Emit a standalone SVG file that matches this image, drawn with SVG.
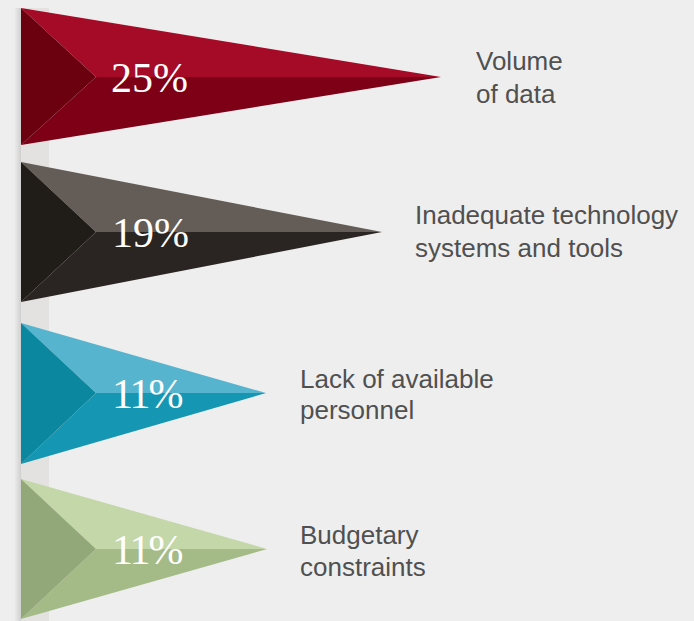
<svg xmlns="http://www.w3.org/2000/svg" width="694" height="621" viewBox="0 0 694 621">
  <defs>
    <linearGradient id="shadow" x1="0" y1="0" x2="1" y2="0">
      <stop offset="0" stop-color="#000" stop-opacity="0"/>
      <stop offset="1" stop-color="#000" stop-opacity="0.13"/>
    </linearGradient>
    <style>
      .pct { font-family: "Liberation Serif", "Times New Roman", serif; font-size: 42px; fill: #ffffff; }
      .narrow { letter-spacing: -2px; }
      .lbl { font-family: "Liberation Sans", Arial, sans-serif; font-size: 26px; fill: #505050; }
    </style>
  </defs>
  <rect width="694" height="621" fill="#eeeeee"/>
  <g id="pole">
    <rect x="14" y="8" width="7" height="613" fill="url(#shadow)"/>
    <rect x="21" y="8" width="28" height="613" fill="#e3e2e0"/>
  </g>
  <g id="flag1">
    <polygon points="21,8 441,77 96,77" fill="#a50a26"/>
    <polygon points="96,77 441,77 21,145" fill="#7e0017"/>
    <polygon points="21,8 96,77 21,145" fill="#6b000f"/>
    <text class="pct" x="111" y="92">25%</text>
    <text class="lbl" x="476" y="70">Volume</text>
    <text class="lbl" x="476" y="103">of data</text>
  </g>
  <g id="flag2">
    <polygon points="21,162 382,232 96,232" fill="#645c57"/>
    <polygon points="96,232 382,232 21,302" fill="#2a2522"/>
    <polygon points="21,162 96,232 21,302" fill="#201c18"/>
    <text class="pct" x="112" y="247">19%</text>
    <text class="lbl" x="415" y="224">Inadequate technology</text>
    <text class="lbl" x="415" y="257">systems and tools</text>
  </g>
  <g id="flag3">
    <polygon points="21,323 266,393 96,393" fill="#56b4cf"/>
    <polygon points="96,393 266,393 21,464" fill="#1597b3"/>
    <polygon points="21,323 96,393 21,464" fill="#0b889f"/>
    <text class="pct narrow" x="112" y="408">11%</text>
    <text class="lbl" x="300" y="388">Lack of available</text>
    <text class="lbl" x="300" y="419">personnel</text>
  </g>
  <g id="flag4">
    <polygon points="21,479 267,549 96,549" fill="#c3d7a8"/>
    <polygon points="96,549 267,549 21,619" fill="#a4bb88"/>
    <polygon points="21,479 96,549 21,619" fill="#93a878"/>
    <text class="pct narrow" x="112" y="564">11%</text>
    <text class="lbl" x="300" y="544">Budgetary</text>
    <text class="lbl" x="300" y="576">constraints</text>
  </g>
  <g id="connectors"></g>
</svg>
